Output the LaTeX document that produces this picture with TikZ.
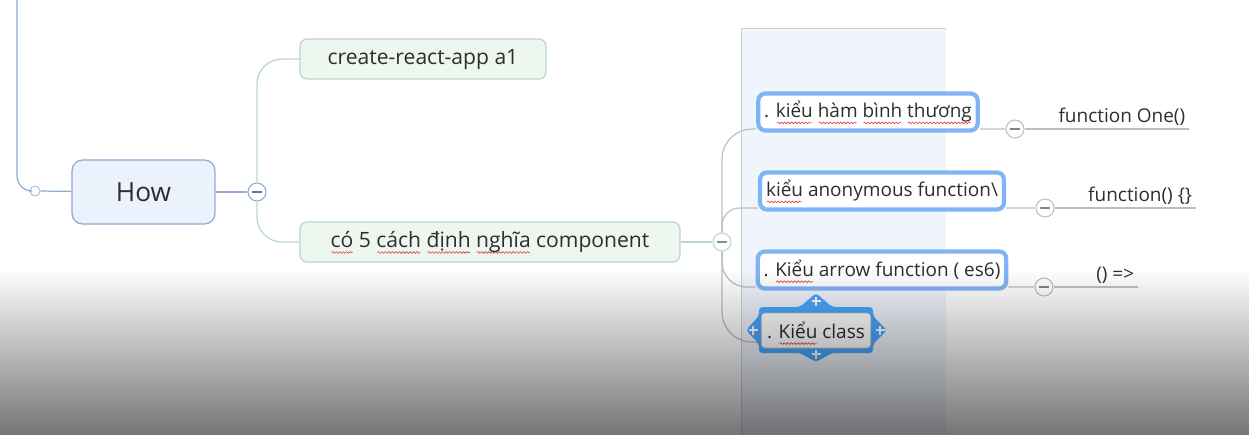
\documentclass[tikz,border=0pt]{standalone}
\usepackage{fontspec}
\setmainfont{Open Sans}
\usetikzlibrary{positioning, decorations.pathmorphing}

\newlength\wavelen
\newcommand\redwave[1]{\settowidth\wavelen{#1}\rlap{\tikz[x=1pt, y=1pt, baseline=0pt, overlay, sharp corners]
    \draw[waveRed, line width=0.35pt, sharp corners, decorate, decoration={snake, amplitude=0.5pt, segment length=2pt}]
    (0.5,-2.8) -- (\wavelen-0.5pt,-2.8);}#1}

\begin{document}
\begin{tikzpicture}[x=0.02cm, y=-0.02cm,
    topic/.style={draw=howBorder, fill=howFill, rounded corners=6pt, line width=0.7pt,
        minimum width=2.86cm, minimum height=1.28cm, text=textDark, font=\fontsize{15}{18}\selectfont},
    branch/.style={draw=greenBorder, fill=greenFill, rounded corners=4pt, line width=0.7pt,
        minimum height=0.8cm, text=textDark, font=\fontsize{12}{14}\selectfont},
    kind/.style={draw=childBlue, fill=white, rounded corners=4pt, line width=2.4pt,
        minimum height=0.74cm, text=textDark, font=\fontsize{10.8}{13}\selectfont},
    leaf/.style={anchor=south east, inner sep=2pt, text=textDark, font=\fontsize{10.8}{13}\selectfont},
    knob/.style={circle, draw=#1, fill=white, line width=0.6pt, minimum size=0.36cm, inner sep=0pt,
        path picture={\draw[#1!70!black, line width=0.6pt] ([xshift=-3pt]path picture bounding box.center) -- ([xshift=3pt]path picture bounding box.center);}},
    plusmark/.style={white, line width=1.6pt}
]
    \definecolor{howFill}{HTML}{EBF2FC}
    \definecolor{howBorder}{HTML}{8FA9D4}
    \definecolor{greenFill}{HTML}{EEF6F0}
    \definecolor{greenBorder}{HTML}{B7D7C8}
    \definecolor{childBlue}{HTML}{80B4F4}
    \definecolor{selectBlue}{HTML}{48A8FF}
    \definecolor{panelFill}{HTML}{F0F4FB}
    \definecolor{panelEdge}{HTML}{CBD0D8}
    \definecolor{lineGray}{HTML}{BEBEBE}
    \definecolor{textDark}{HTML}{2E2E2E}
    \definecolor{waveRed}{HTML}{E0403A}
    \definecolor{shadeGray}{HTML}{767676}

    \useasboundingbox (0,0) rectangle (1249,434);

    % Selected column
    \fill[panelFill] (741,28) rectangle (946,434);
    \draw[panelEdge] (946,28) -- (741,28) -- (741,434);

    % Central topic
    \coordinate (top) at (17,0);
    \node[circle, draw=howBorder, fill=white, minimum size=0.2cm, inner sep=0pt] (hub) at (35,191) {};
    \node[topic] (how) at (143.5,192) {How};
    \node[knob=howBorder] (knobA) at (257,192) {};

    \draw[howBorder, line width=0.7pt, rounded corners=0.3cm] (top) |- (hub.west);
    \draw[howBorder, line width=0.7pt] (hub) -- (how);
    \draw[howBorder, line width=0.7pt] (how) -- (knobA);

    % Main branches
    \node[branch, minimum width=4.92cm] (cra) at (423,59) {create-react-app a1};
    \node[branch, minimum width=7.6cm] (ways) at (490,242)
        {\redwave{có} 5 \redwave{cách} \redwave{định} \redwave{nghĩa} component};
    \node[knob=greenBorder] (knobB) at (722,242) {};

    \draw[greenBorder, line width=0.7pt, rounded corners=0.5cm] (knobA.north) |- (cra.west);
    \draw[greenBorder, line width=0.7pt, rounded corners=0.5cm] (knobA.south) |- (ways.west);
    \draw[greenBorder, line width=0.7pt] (ways) -- (knobB);

    % Kinds of component
    \node[kind, minimum width=4.32cm] (plain) at (868,112)
        {. \redwave{kiểu} \redwave{hàm} \redwave{bình} \redwave{thương}};
    \node[kind, minimum width=4.88cm] (anon) at (882,191)
        {\redwave{kiểu} anonymous function\textbackslash};
    \node[kind, minimum width=4.88cm] (arrow) at (882,270)
        {. \redwave{Kiểu} arrow function ( es6)};

    \draw[lineGray, line width=0.7pt, rounded corners=0.6cm] (knobB.north) |- ([yshift=2pt]plain.south west);
    \draw[lineGray, line width=0.7pt, rounded corners=0.35cm] (knobB.north) |- ([yshift=2pt]anon.south west);
    \draw[lineGray, line width=0.7pt, rounded corners=0.5cm] (knobB.south) |- ([yshift=2pt]arrow.south west);
    \coordinate (classEnd) at (760,342);
    \draw[lineGray, line width=0.7pt, rounded corners=0.6cm] (knobB.south) |- (classEnd);

    % Selection frame round the class node
    \fill[selectBlue, rounded corners=2pt] (759,307) -- (800,307) -- (816,293) -- (832,307) -- (873,307)
        -- (873,316) -- (887,330) -- (873,344) -- (873,353) -- (832,353) -- (816,362) -- (800,353)
        -- (759,353) -- (759,344) -- (746,330) -- (759,316) -- cycle;
    \foreach \px/\py in {816/301, 816/354, 753/330, 880/330} {
        \draw[plusmark] (\px-4.5,\py) -- (\px+4.5,\py);
        \draw[plusmark] (\px,\py-4.5) -- (\px,\py+4.5);
    }
    \node[draw=lineGray, fill=white, rounded corners=2pt, minimum width=2.14cm, minimum height=0.7cm,
        text=textDark, font=\fontsize{10.8}{13}\selectfont] (class) at (816,330.5) {. \redwave{Kiểu} class};

    % Code samples
    \node[knob=lineGray] (knob1) at (1015,129) {};
    \node[knob=lineGray] (knob2) at (1045,208) {};
    \node[knob=lineGray] (knob3) at (1044,287) {};
    \node[leaf] (one) at (1189,129) {function One()};
    \node[leaf] (fn) at (1196,208) {function() \{\}};
    \node[leaf] (fat) at (1138,287) {() =>};

    \draw[lineGray, line width=0.7pt] ([yshift=2pt]plain.south east) -- (knob1);
    \draw[lineGray, line width=0.7pt] ([yshift=2pt]anon.south east) -- (knob2);
    \draw[lineGray, line width=0.7pt] ([yshift=2pt]arrow.south east) -- (knob3);
    \draw[lineGray, line width=0.7pt] (knob1) -- (one.south east);
    \draw[lineGray, line width=0.7pt] (knob2) -- (fn.south east);
    \draw[lineGray, line width=0.7pt] (knob3) -- (fat.south east);

    % Dark fade at the bottom
    \begin{scope}[blend mode=multiply]
        \shade[top color=white, bottom color=shadeGray] (0,268) rectangle (1249,434);
    \end{scope}
\end{tikzpicture}
\end{document}
